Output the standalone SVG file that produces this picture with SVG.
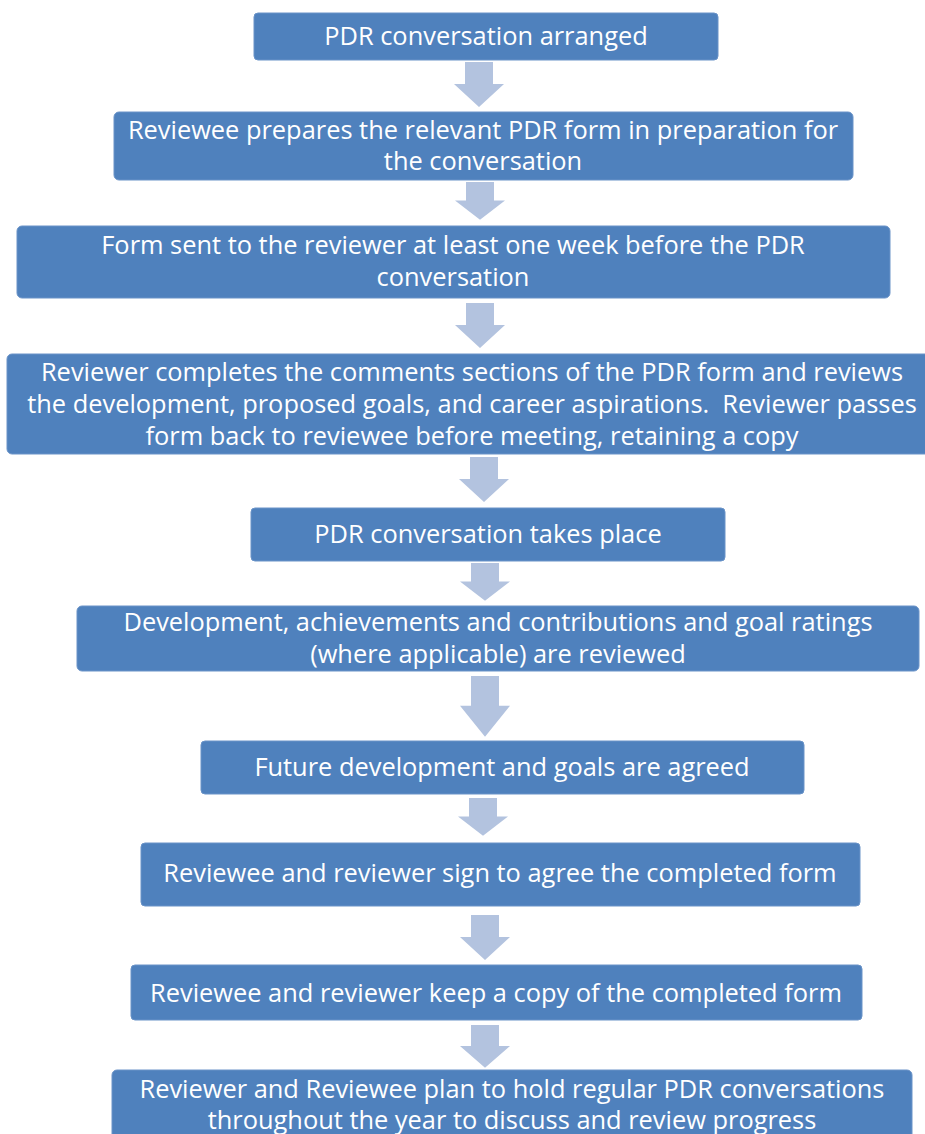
<svg xmlns="http://www.w3.org/2000/svg" width="925" height="1134" viewBox="0 0 925 1134">
<defs>
<style>
.box{fill:#4F81BD;stroke:#6A93C8;stroke-width:1}
.t{font-family:"Open Sans","Liberation Sans",sans-serif;font-size:25.4px;fill:#FFFFFF;text-anchor:middle;white-space:pre}
.arr{fill:#B3C3DF}
</style>
<path id="a" d="M-14,0 H14 V22 H25 L0,45 L-25,22 H-14 Z"/>
</defs>
<rect width="925" height="1134" fill="#FFFFFF"/>
<g id="connectors">
<use href="#a" class="arr" x="479" y="62"/>
<use href="#a" class="arr" x="480" y="182" transform="translate(480 182) scale(1 0.84) translate(-480 -182)"/>
<use href="#a" class="arr" x="480" y="303"/>
<use href="#a" class="arr" x="484" y="457"/>
<use href="#a" class="arr" x="485" y="563" transform="translate(485 563) scale(1 0.84) translate(-485 -563)"/>
<use href="#a" class="arr" x="485" y="676" transform="translate(485 676) scale(1 1.35) translate(-485 -676)"/>
<use href="#a" class="arr" x="483" y="798" transform="translate(483 798) scale(1 0.84) translate(-483 -798)"/>
<use href="#a" class="arr" x="485" y="915"/>
<use href="#a" class="arr" x="485" y="1025" transform="translate(485 1025) scale(1 0.95) translate(-485 -1025)"/>
</g>
<g id="n1"><rect class="box" x="254" y="13" width="464" height="47" rx="4"/><text class="t" x="486" y="45">PDR conversation arranged</text></g>
<g id="n2"><rect class="box" x="114" y="112" width="739" height="68" rx="5"/><text class="t" x="483" y="139">Reviewee prepares the relevant PDR form in preparation for</text><text class="t" x="483" y="170">the conversation</text></g>
<g id="n3"><rect class="box" x="17" y="226" width="873" height="72" rx="5"/><text class="t" x="453" y="254">Form sent to the reviewer at least one week before the PDR</text><text class="t" x="453" y="286">conversation</text></g>
<g id="n4"><rect class="box" x="7" y="354" width="930" height="100" rx="5"/><text class="t" x="472" y="381">Reviewer completes the comments sections of the PDR form and reviews</text><text class="t" x="472" y="413" xml:space="preserve">the development, proposed goals, and career aspirations.  Reviewer passes</text><text class="t" x="472" y="445">form back to reviewee before meeting, retaining a copy</text></g>
<g id="n5"><rect class="box" x="251" y="508" width="474" height="53" rx="4"/><text class="t" x="488" y="543">PDR conversation takes place</text></g>
<g id="n6"><rect class="box" x="77" y="606" width="842" height="65" rx="5"/><text class="t" x="498" y="631">Development, achievements and contributions and goal ratings</text><text class="t" x="498" y="663">(where applicable) are reviewed</text></g>
<g id="n7"><rect class="box" x="201" y="741" width="603" height="53" rx="4"/><text class="t" x="502" y="776">Future development and goals are agreed</text></g>
<g id="n8"><rect class="box" x="141" y="843" width="719" height="63" rx="4"/><text class="t" x="500" y="882">Reviewee and reviewer sign to agree the completed form</text></g>
<g id="n9"><rect class="box" x="131" y="965" width="731" height="55" rx="4"/><text class="t" x="496" y="1002">Reviewee and reviewer keep a copy of the completed form</text></g>
<g id="n10"><rect class="box" x="112" y="1070" width="800" height="80" rx="5"/><text class="t" x="512" y="1098">Reviewer and Reviewee plan to hold regular PDR conversations</text><text class="t" x="512" y="1129">throughout the year to discuss and review progress</text></g>
</svg>
